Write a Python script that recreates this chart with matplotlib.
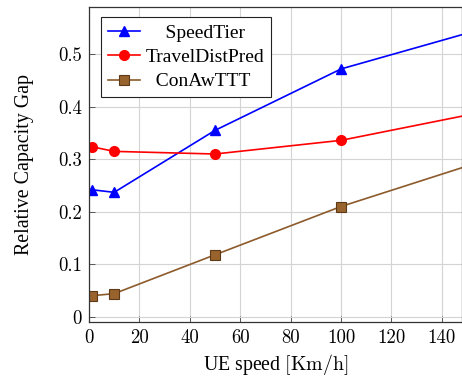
import matplotlib
matplotlib.use('Agg')
import matplotlib.pyplot as plt

# UE speed [km/h]
speed = [1, 10, 50, 100, 150]

# relative capacity gap per scheme
speed_tier = [0.242, 0.237, 0.355, 0.472, 0.540]
travel_dist_pred = [0.324, 0.315, 0.310, 0.336, 0.384]
con_aw_ttt = [0.040, 0.044, 0.118, 0.210, 0.287]

xticks = [0, 20, 40, 60, 80, 100, 120, 140]
yticks = [0, 0.1, 0.2, 0.3, 0.4, 0.5]

plt.rcParams['font.family'] = ['Liberation Serif', 'DejaVu Serif']
plt.rcParams['mathtext.fontset'] = 'cm'

fig = plt.figure(figsize=(4.62, 3.77), dpi=100)
ax = fig.add_axes([0.1926, 0.1459, 0.8074, 0.8355])

# legend text is centred in the reference, pad with spaces
ax.plot(speed, speed_tier, color='blue', marker='^', markersize=7, lw=1.2,
        label='    SpeedTier')
ax.plot(speed, travel_dist_pred, color='red', marker='o', markersize=7, lw=1.2,
        label='TravelDistPred')
ax.plot(speed, con_aw_ttt, color='#8c5a2b', marker='s', markersize=7, lw=1.2,
        markerfacecolor='#99632e', markeredgecolor='#5c3a17', markeredgewidth=0.8,
        label='  ConAwTTT')

ax.set_xlim(0, 148)
ax.set_ylim(-0.01, 0.59)
ax.set_xticks(xticks)
ax.set_yticks(yticks)
ax.set_xticklabels([str(t) for t in xticks], fontfamily='cmr10')
ax.set_yticklabels(['0'] + ['%.1f' % t for t in yticks[1:]], fontfamily='cmr10')
ax.tick_params(direction='in', length=4, labelsize=13.5, width=0.6, color='#444444', pad=5)
ax.grid(True, color='#d4d4d4', lw=0.8)
ax.set_axisbelow(True)
for s in ax.spines.values():
    s.set_color('#333333')
    s.set_linewidth(0.9)

ax.set_xlabel(r'UE speed $[\mathrm{Km/h}]$', fontsize=14.3, labelpad=4)
ax.set_ylabel('Relative Capacity Gap', fontsize=14.3, labelpad=17)

leg = ax.legend(loc='upper left', fontsize=14, fancybox=False, framealpha=1,
                edgecolor='#222222', borderaxespad=0, handlelength=1.65,
                handletextpad=0.3, labelspacing=0.35, borderpad=0.35,
                bbox_to_anchor=(0.032, 0.968))
leg.get_frame().set_linewidth(0.8)

fig.savefig('out.png', dpi=100)
